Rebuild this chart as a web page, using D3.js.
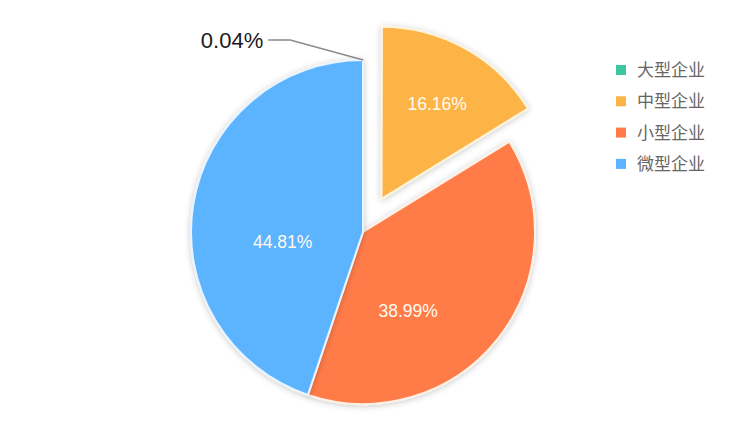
<!DOCTYPE html>
<html>
<head>
<meta charset="utf-8">
<script src="https://cdn.jsdelivr.net/npm/d3@7/dist/d3.min.js"></script>
<style>
  body { margin: 0; background: #fff; }
  svg { display: block; }
</style>
</head>
<body>
<div id="chart"></div>
<script>
const width = 742
const height = 433

// data
var categories = ["大型企业", "中型企业", "小型企业", "微型企业"]
var values = [0.04, 16.16, 38.99, 44.81]
var labels = ["0.04%", "16.16%", "38.99%", "44.81%"]

var colors = ["#3ec6a1", "#fdb446", "#ff7c48", "#5cb3fe"]
var strokes = ["#ffffff", "#fff3dc", "#fff1e6", "#e8f4ff"]

const cx = 363, cy = 232, radius = 172
const explode = [0, 38, 0, 0]
// label radius (fraction) and angle nudge (radians) for inner labels
const labelR = [0, 0.64, 0.53, 0.47]
const labelNudge = [0, 0.02, 0.38, -0.28]

var svg = d3.select("#chart")
  .append("svg")
  .attr("width", width)
  .attr("height", height)

var defs = svg.append("defs")
var f = defs.append("filter").attr("id", "shadow")
  .attr("x", "-20%").attr("y", "-20%").attr("width", "140%").attr("height", "140%")
f.append("feDropShadow")
  .attr("dx", 0).attr("dy", 1)
  .attr("stdDeviation", 3)
  .attr("flood-color", "#000")
  .attr("flood-opacity", 0.22)

var pie = d3.pie().sort(null).value(d => d)
var arcs = pie(values)

var arc = d3.arc().innerRadius(0).outerRadius(radius)

var g = svg.append("g").attr("transform", "translate(" + cx + "," + cy + ")")

g.selectAll("path.slice")
  .data(arcs)
  .enter()
  .append("path")
  .attr("class", "slice")
  .attr("d", arc)
  .attr("transform", function(d, i) {
    var a = (d.startAngle + d.endAngle) / 2
    return "translate(" + (Math.sin(a) * explode[i]) + "," + (-Math.cos(a) * explode[i]) + ")"
  })
  .attr("fill", (d, i) => colors[i])
  .attr("stroke", (d, i) => strokes[i])
  .attr("stroke-width", 2)
  .attr("stroke-linejoin", "round")
  .attr("filter", "url(#shadow)")

// inner labels
g.selectAll("text.inner")
  .data(arcs.slice(1))
  .enter()
  .append("text")
  .attr("class", "inner")
  .attr("x", function(d, j) {
    var i = j + 1
    var a = (d.startAngle + d.endAngle) / 2
    var la = a + labelNudge[i]
    return Math.sin(a) * explode[i] + Math.sin(la) * radius * labelR[i]
  })
  .attr("y", function(d, j) {
    var i = j + 1
    var a = (d.startAngle + d.endAngle) / 2
    var la = a + labelNudge[i]
    return -Math.cos(a) * explode[i] - Math.cos(la) * radius * labelR[i]
  })
  .attr("dy", "0.35em")
  .attr("text-anchor", "middle")
  .attr("fill", "#fffaf0")
  .style("font-family", "Liberation Sans, Arial, sans-serif")
  .style("font-size", "17.5px")
  .text((d, j) => labels[j + 1])

// outside label for the tiny slice
var tiny = arcs[0]
var ta = (tiny.startAngle + tiny.endAngle) / 2
var p0 = [Math.sin(ta) * radius, -Math.cos(ta) * radius]
var p1 = [p0[0] - 73, p0[1] - 20]
var p2 = [p1[0] - 22, p1[1]]
g.append("path")
  .attr("d", d3.line()([p0, p1, p2]))
  .attr("fill", "none")
  .attr("stroke", "#8a8a8a")
  .attr("stroke-width", 1.3)
g.append("text")
  .attr("x", p2[0] - 5)
  .attr("y", p2[1])
  .attr("dy", "0.35em")
  .attr("text-anchor", "end")
  .attr("fill", "#1a1a1a")
  .style("font-family", "Liberation Sans, Arial, sans-serif")
  .style("font-size", "22px")
  .text(labels[0])

// legend
var legend = svg.append("g").attr("transform", "translate(616,70)")
var item = legend.selectAll("g")
  .data(categories)
  .enter()
  .append("g")
  .attr("transform", (d, i) => "translate(0," + (i * 31.3) + ")")
item.append("rect")
  .attr("x", 0).attr("y", -5)
  .attr("width", 10).attr("height", 10)
  .attr("fill", (d, i) => colors[i])
item.append("text")
  .attr("x", 21)
  .attr("dy", "0.36em")
  .attr("fill", "#666")
  .style("font-family", "Noto Sans CJK SC, sans-serif")
  .style("font-size", "17px")
  .text(d => d)
</script>
</body>
</html>
